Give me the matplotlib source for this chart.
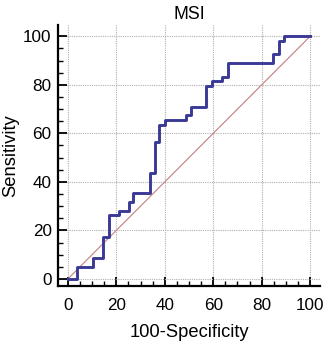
import matplotlib
matplotlib.use("Agg")
import matplotlib.pyplot as plt
from matplotlib.ticker import MultipleLocator

plt.rcParams['font.family'] = ['Liberation Sans', 'DejaVu Sans']

title = "MSI"
xlabel = "100-Specificity"
ylabel = "Sensitivity"
fpr = [0, 3.85, 10.5, 14.6, 17.0, 21.0, 25.2, 27.0, 33.9, 36.0, 37.5, 40.0,
       48.8, 50.8, 57.0, 59.4, 63.8, 66.0, 84.8, 87.3, 89.3, 100]
tpr = [0, 4.8, 8.5, 17.4, 26.4, 28.0, 31.6, 35.6, 43.8, 56.6, 63.5, 65.6,
       67.4, 71.0, 79.7, 81.6, 83.4, 88.9, 92.7, 97.9, 100, 100]
diag = [0, 100]
ticks = [0, 20, 40, 60, 80, 100]

fig = plt.figure(figsize=(3.27, 3.45), dpi=100)
ax = fig.add_axes([0.177, 0.171, 0.802, 0.757])

ax.plot(diag, diag, color='#c98a8a', lw=0.9, zorder=2)
ax.plot(fpr, tpr, drawstyle='steps-post', color='#3a3a96', lw=2.1, zorder=3)

ax.set_xlim(-4.1, 104.1)
ax.set_ylim(-2.9, 104.7)
ax.set_xticks(ticks)
ax.set_yticks(ticks)
ax.xaxis.set_minor_locator(MultipleLocator(5))
ax.yaxis.set_minor_locator(MultipleLocator(5))
ax.tick_params(which='major', direction='in', length=6.5, width=1.3, labelsize=12.3, colors='black')
ax.tick_params(axis='x', which='major', pad=8.5)
ax.tick_params(axis='y', which='major', pad=4.5)
ax.tick_params(which='minor', direction='in', length=3.5, width=1.0)
for s in ['top', 'right']:
    ax.spines[s].set_visible(False)
for s in ['left', 'bottom']:
    ax.spines[s].set_linewidth(1.6)
ax.grid(True, which='major', color='#b0b0b0', linestyle=(0, (1, 1)), lw=0.8, zorder=0)
ax.set_axisbelow(True)

ax.set_title(title, fontsize=12.8, pad=4)
ax.set_xlabel(xlabel, fontsize=13.2, labelpad=8)
ax.set_ylabel(ylabel, fontsize=13.2, labelpad=3)

fig.savefig("out.png", dpi=100)
